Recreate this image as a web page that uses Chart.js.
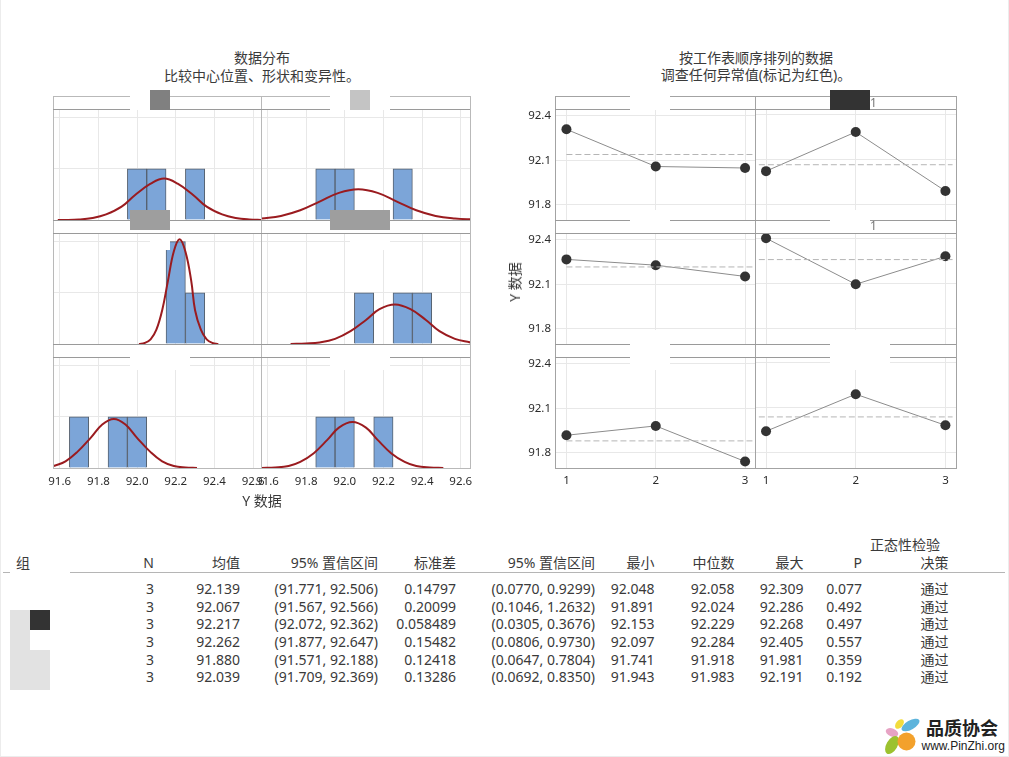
<!DOCTYPE html>
<html>
<head>
<meta charset="utf-8">
<title>数据分布</title>
<script src="https://cdn.jsdelivr.net/npm/chart.js@4"></script>
<style>
  html, body { margin: 0; padding: 0; background: #fff; }
  body { width: 1009px; height: 757px; position: relative; overflow: hidden;
         font-family: "Noto Sans", "Noto Sans CJK SC", sans-serif; color: #3a3a3a; }
  canvas { position: absolute; }
  .t { position: absolute; white-space: nowrap; line-height: 18px; }
  .box { position: absolute; }
</style>
</head>
<body>
<script>
// histogram panels
const histBins = [
  [92.0, 92.1, 92.3],
  [91.9, 92.0, 92.3],
  [92.2, 92.3],
  [92.1, 92.3, 92.4],
  [91.7, 91.9, 92.0],
  [91.9, 92.0, 92.2]
];
const histFreq = [
  [1, 1, 1],
  [1, 1, 1],
  [2, 1],
  [1, 1, 1],
  [1, 1, 1],
  [1, 1, 1]
];
const curveX = [
  [91.59, 91.62, 91.70, 91.77, 91.84, 91.92, 91.99, 92.07, 92.14, 92.21, 92.29, 92.36, 92.44, 92.51, 92.58, 92.65],
  [91.57, 91.67, 91.77, 91.87, 91.97, 92.07, 92.17, 92.27, 92.37, 92.47, 92.57, 92.67],
  [92.01, 92.04, 92.07, 92.10, 92.13, 92.16, 92.19, 92.22, 92.25, 92.28, 92.30, 92.33, 92.36, 92.39, 92.42],
  [91.72, 91.80, 91.87, 91.95, 92.03, 92.11, 92.18, 92.26, 92.34, 92.42, 92.49, 92.57, 92.65],
  [91.57, 91.63, 91.69, 91.76, 91.82, 91.88, 91.94, 92.00, 92.07, 92.13, 92.19, 92.25, 92.31],
  [91.57, 91.64, 91.71, 91.77, 91.84, 91.91, 91.97, 92.04, 92.11, 92.17, 92.24, 92.31, 92.37, 92.44, 92.51]
];
const curveY = [
  [0, 0, 0.01, 0.04, 0.11, 0.26, 0.49, 0.71, 0.81, 0.71, 0.49, 0.26, 0.11, 0.04, 0.01, 0],
  [0.03, 0.08, 0.19, 0.36, 0.53, 0.60, 0.53, 0.36, 0.19, 0.08, 0.03, 0.01],
  [0, 0.02, 0.09, 0.28, 0.66, 1.24, 1.81, 2.05, 1.81, 1.24, 0.66, 0.28, 0.09, 0.02, 0],
  [0, 0.01, 0.03, 0.10, 0.25, 0.47, 0.68, 0.77, 0.68, 0.47, 0.25, 0.10, 0.03],
  [0.04, 0.13, 0.31, 0.59, 0.85, 0.96, 0.85, 0.59, 0.31, 0.13, 0.04, 0.01, 0],
  [0, 0.01, 0.04, 0.12, 0.29, 0.55, 0.79, 0.90, 0.79, 0.55, 0.29, 0.12, 0.04, 0.01, 0]
];
const histXTicks = [91.6, 91.8, 92.0, 92.2, 92.4, 92.6];
const histYTicks = [0, 1, 2];

// worksheet order panels
const runOrder = [1, 2, 3];
const runValues = [
  [92.309, 92.058, 92.048],
  [92.024, 92.286, 91.891],
  [92.268, 92.229, 92.153],
  [92.405, 92.097, 92.284],
  [91.918, 91.981, 91.741],
  [91.943, 92.191, 91.983]
];
const runYTicks = [91.8, 92.1, 92.4];

// summary table columns
const colN = ['3', '3', '3', '3', '3', '3'];
const colMean = ['92.139', '92.067', '92.217', '92.262', '91.880', '92.039'];
const colMeanCI = ['(91.771, 92.506)', '(91.567, 92.566)', '(92.072, 92.362)', '(91.877, 92.647)', '(91.571, 92.188)', '(91.709, 92.369)'];
const colSd = ['0.14797', '0.20099', '0.058489', '0.15482', '0.12418', '0.13286'];
const colSdCI = ['(0.0770, 0.9299)', '(0.1046, 1.2632)', '(0.0305, 0.3676)', '(0.0806, 0.9730)', '(0.0647, 0.7804)', '(0.0692, 0.8350)'];
const colMin = ['92.048', '91.891', '92.153', '92.097', '91.741', '91.943'];
const colMedian = ['92.058', '92.024', '92.229', '92.284', '91.918', '91.983'];
const colMax = ['92.309', '92.286', '92.268', '92.405', '91.981', '92.191'];
const colP = ['0.077', '0.492', '0.497', '0.557', '0.359', '0.192'];
const colDecision = ['通过', '通过', '通过', '通过', '通过', '通过'];
const colHeaders = ['N', '均值', '95% 置信区间', '标准差', '95% 置信区间', '最小', '中位数', '最大', 'P', '决策'];

const TICK_COLOR = '#2b2b2b';
const GRID_COLOR = '#e8e8e8';
const FONT = '"Noto Sans", "Noto Sans CJK SC", sans-serif';
// top margin has to stay above half a tick label or the y axis gets shortened
const M = { left: 40, right: 20, top: 10, bottom: 30 };

function addText(str, x, y, size, align, color) {
  const el = document.createElement('div');
  el.className = 't';
  el.textContent = str;
  el.style.fontSize = size + 'px';
  el.style.top = (y - 9) + 'px';
  if (color) el.style.color = color;
  if (align === 'right') el.style.right = (1009 - x) + 'px';
  else if (align === 'center') { el.style.left = x + 'px'; el.style.transform = 'translateX(-50%)'; }
  else el.style.left = x + 'px';
  document.body.appendChild(el);
  return el;
}

function addBox(x, y, w, h, color) {
  const el = document.createElement('div');
  el.className = 'box';
  el.style.cssText = `left:${x}px;top:${y}px;width:${w}px;height:${h}px;background:${color}`;
  document.body.appendChild(el);
}

function addCanvas(rect) {
  const c = document.createElement('canvas');
  c.width = rect.w + M.left + M.right;
  c.height = rect.h + M.top + M.bottom;
  c.style.left = (rect.x - M.left) + 'px';
  c.style.top = (rect.y - M.top) + 'px';
  document.body.appendChild(c);
  return c.getContext('2d');
}

function panelScales(xr, yr, xTicks, yTicks, showX, showY, xFmt, xPad) {
  return {
    x: {
      type: 'linear', min: xr[0], max: xr[1], offset: false,
      afterBuildTicks: s => { s.ticks = xTicks.map(v => ({ value: v })); },
      afterFit: s => { s.height = M.bottom; },
      border: { display: false },
      grid: { color: GRID_COLOR, drawTicks: false, offset: false },
      ticks: {
        display: showX, autoSkip: false, maxRotation: 0, padding: xPad,
        color: TICK_COLOR, font: { family: FONT, size: 11.5 }, callback: xFmt
      }
    },
    y: {
      min: yr[0], max: yr[1],
      afterBuildTicks: s => { s.ticks = yTicks.map(v => ({ value: v })); },
      afterFit: s => { s.width = M.left; },
      border: { display: false },
      grid: { color: GRID_COLOR, drawTicks: false },
      ticks: {
        display: showY, padding: 4, color: TICK_COLOR,
        font: { family: FONT, size: 11.5 }, callback: v => v.toFixed(1)
      }
    }
  };
}

const baseOptions = {
  responsive: false,
  animation: false,
  layout: { autoPadding: false, padding: { left: 0, bottom: 0, top: M.top, right: M.right } },
  plugins: { legend: { display: false }, tooltip: { enabled: false } }
};

// histogram grid
const histCols = [
  { x: 54, w: 207, range: [91.5705, 92.641] },
  { x: 261, w: 209, range: [91.567, 92.648] }
];
const rowsY = [109, 233, 357];
const PLOT_H = 111;

histBins.forEach((bins, i) => {
  const col = histCols[i % 2];
  const row = Math.floor(i / 2);
  const ctx = addCanvas({ x: col.x, y: rowsY[row], w: col.w, h: PLOT_H });
  new Chart(ctx, {
    type: 'bar',
    data: {
      datasets: [
        {
          type: 'line', order: 0,
          data: curveX[i].map((x, k) => ({ x, y: curveY[i][k] })),
          borderColor: '#9a1b1f', borderWidth: 2, pointRadius: 0, tension: 0.4
        },
        {
          type: 'bar', order: 1,
          data: bins.map((x, k) => ({ x, y: histFreq[i][k] })),
          backgroundColor: '#7ca5d8', borderColor: '#56616f', borderWidth: 1,
          barPercentage: 1, categoryPercentage: 1
        }
      ]
    },
    options: Object.assign({}, baseOptions, {
      scales: panelScales(col.range, [0, 2.17], histXTicks, histYTicks, row === 2, false, v => v.toFixed(1), 7)
    })
  });
});

// worksheet order grid
const runCols = [
  { x: 555, w: 200, range: [0.872, 3.111], lineFrom: 1, lineTo: 3.09 },
  { x: 755, w: 201, range: [0.877, 3.118], lineFrom: 0.92, lineTo: 3.08 }
];

runValues.forEach((vals, i) => {
  const col = runCols[i % 2];
  const row = Math.floor(i / 2);
  const ctx = addCanvas({ x: col.x, y: rowsY[row], w: col.w, h: PLOT_H });
  const mean = parseFloat(colMean[i]);
  new Chart(ctx, {
    type: 'line',
    data: {
      datasets: [
        {
          data: [{ x: col.lineFrom, y: mean }, { x: col.lineTo, y: mean }],
          borderColor: '#b5b5b5', borderWidth: 1, borderDash: [6, 3], pointRadius: 0
        },
        {
          data: runOrder.map((x, k) => ({ x, y: vals[k] })),
          borderColor: '#8c8c8c', borderWidth: 1, tension: 0, clip: false,
          pointRadius: 5, pointBackgroundColor: '#333333', pointBorderWidth: 0
        }
      ]
    },
    options: Object.assign({}, baseOptions, {
      scales: panelScales(col.range, [91.697, 92.44], runOrder, runYTicks, row === 2, i % 2 === 0, v => String(v), 6)
    })
  });
});

// panel frames and strips
function drawFrame(x0, xm, x1, color, stripColor) {
  addBox(x0, 96, x1 - x0, 1, color);
  addBox(x0, 96, 1, 373, color);
  addBox(xm, 96, 1, 373, color);
  addBox(x1, 96, 1, 373, color);
  addBox(x0, 468, x1 - x0 + 1, 1, color);
  [109, 220, 233, 344, 357].forEach(y => addBox(x0, y, x1 - x0, 1, stripColor));
}
drawFrame(53, 261, 470, '#b9b9b9', '#9a9a9a');
drawFrame(555, 755, 956, '#a3a3a3', '#9a9a9a');

// strips hide what is under them
[[54, 97, 207, 12], [262, 97, 208, 12], [54, 221, 207, 12], [262, 221, 208, 12], [54, 345, 207, 12], [262, 345, 208, 12],
 [556, 97, 199, 11], [756, 97, 200, 11], [556, 221, 199, 11], [756, 221, 200, 11], [556, 345, 199, 11], [756, 345, 200, 11]]
  .forEach(s => addBox(s[0], s[1], s[2], s[3], '#fff'));

// label cover-ups that are in the reference picture
const covers = [
  [130, 90, 40, 20, '#fff'], [150, 90, 20, 20, '#808080'],
  [330, 90, 60, 20, '#fff'], [350, 90, 20, 20, '#c4c4c4'],
  [130, 210, 40, 20, '#9e9e9e'], [330, 210, 60, 20, '#9e9e9e'],
  [150, 233.5, 20, 16.5, '#fff'], [350, 233.5, 40, 16.5, '#fff'],
  [130, 350, 60, 20, '#fff'], [330, 350, 60, 20, '#fff'],
  [630, 90, 40, 20, '#fff'], [830, 90, 40, 20, '#333333'],
  [630, 210, 40, 20, '#fff'], [830, 210, 40, 20, '#fff'],
  [630, 330, 40, 40, '#fff'], [830, 330, 60, 40, '#fff'],
  [10, 610, 20, 40, '#e2e2e2'], [30, 610, 20, 20, '#333333'], [10, 650, 40, 40, '#e2e2e2']
];
covers.forEach(c => addBox(c[0], c[1], c[2], c[3], c[4]));

addText('1', 870, 103, 12, 'left', '#777');
addText('1', 870, 226, 12, 'left', '#777');

// titles and axis labels
addText('数据分布', 262, 58, 14, 'center');
addText('比较中心位置、形状和变异性。', 262, 76, 14, 'center');
addText('按工作表顺序排列的数据', 756, 58, 14, 'center');
addText('调查任何异常值(标记为红色)。', 756, 75, 14, 'center');
addText('Y 数据', 262, 501, 14, 'center');
const yLab = addText('Y 数据', 515, 282, 14, 'center');
yLab.style.transform = 'translateX(-50%) rotate(-90deg)';

// summary table
const colRight = [154, 240, 378, 456, 595, 654.5, 734.5, 803.5, 862, 948.5];
const rowY = [589, 607, 624, 642, 660, 677];
const tableCols = [colN, colMean, colMeanCI, colSd, colSdCI, colMin, colMedian, colMax, colP, colDecision];
addText('正态性检验', 940, 545, 14, 'right');
addText('组', 16, 563, 14, 'left');
colHeaders.forEach((h, c) => addText(h, colRight[c], 563, 14, 'right'));
tableCols.forEach((col, c) => col.forEach((v, r) => addText(v, colRight[c], rowY[r], 14, 'right')));
addBox(3, 572, 7, 1, '#b5b5b5');
addBox(70, 572, 935, 1, '#b5b5b5');

// watermark
const logo = document.createElementNS('http://www.w3.org/2000/svg', 'svg');
logo.setAttribute('width', '40');
logo.setAttribute('height', '40');
logo.style.cssText = 'position:absolute;left:880px;top:715px';
logo.innerHTML = `
  <ellipse cx="12" cy="17.5" rx="6.5" ry="4" fill="#e7a3c4" transform="rotate(20 12 17.5)"/>
  <ellipse cx="19.5" cy="9" rx="5.5" ry="3.5" fill="#f2dc3c" transform="rotate(-50 19.5 9)"/>
  <ellipse cx="30.5" cy="10" rx="10" ry="4.5" fill="#5db4dc" transform="rotate(-30 30.5 10)"/>
  <ellipse cx="12" cy="30" rx="10" ry="5.5" fill="#9cc22f" transform="rotate(-60 12 30)"/>
  <circle cx="26.5" cy="26.5" r="9" fill="#f3a12c"/>`;
document.body.appendChild(logo);
const brand = addText('品质协会', 926, 728, 18, 'left', '#222');
brand.style.fontWeight = '700';
const site = addText('www.PinZhi.org', 921.5, 746, 12, 'left', '#222');
site.style.fontFamily = '"Liberation Sans", sans-serif';

// thin edge of the screenshot
addBox(0, 0, 1, 757, '#ececec');
addBox(0, 756, 1009, 1, '#ececec');
addBox(1008, 0, 1, 757, '#ececec');
</script>
</body>
</html>
